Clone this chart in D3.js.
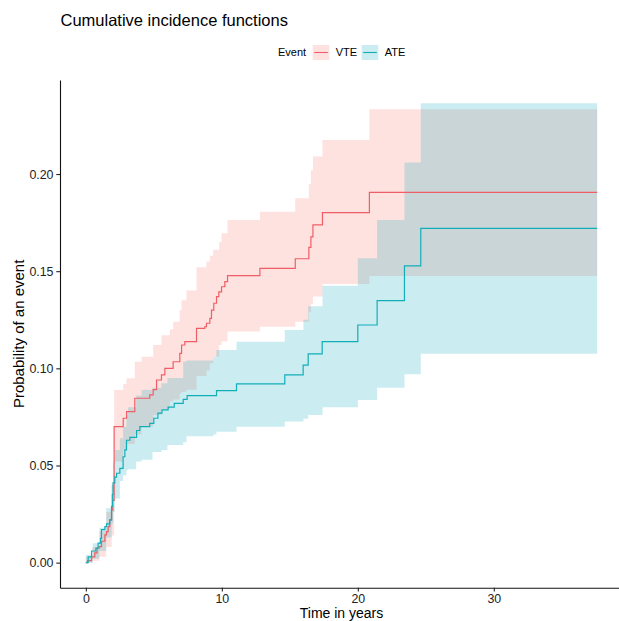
<!DOCTYPE html>
<html>
<head>
<meta charset="utf-8">
<script src="https://cdn.jsdelivr.net/npm/d3@7"></script>
<style>
  body { margin: 0; background: #fff; }
  svg { display: block; font-family: "Liberation Sans", Arial, sans-serif; }
</style>
</head>
<body>
<div id="chart"></div>
<script>
// estimaciones de la función de incidencia acumulada
var vteTime = [0, 0.12, 0.42, 0.66, 0.83, 0.98, 1.15, 1.4, 1.52, 1.64, 1.76, 1.89, 1.98, 2.08, 2.75, 3.0, 3.6, 4.7, 4.95, 5.2, 5.56, 5.81, 6.42, 6.91, 7.04, 7.28, 8.14, 8.75, 8.87, 9.12, 9.24, 9.41, 9.61, 9.78, 9.98, 10.22, 10.42, 12.8, 15.4, 16.4, 16.55, 16.7, 17.4, 20.85, 37.6];
var vteEst  = [0, 0.001, 0.003, 0.005, 0.0074, 0.0082, 0.011, 0.0143, 0.016, 0.0185, 0.022, 0.027, 0.032, 0.070, 0.0743, 0.0777, 0.0846, 0.0863, 0.089, 0.094, 0.0966, 0.100, 0.1034, 0.1077, 0.112, 0.1137, 0.1206, 0.1214, 0.1232, 0.1257, 0.130, 0.1335, 0.1369, 0.1394, 0.142, 0.1446, 0.1477, 0.1515, 0.1564, 0.1623, 0.1677, 0.1738, 0.1801, 0.1906, 0.1906];

var ateTime = [0, 0.17, 0.42, 0.74, 0.9, 1.08, 1.15, 1.4, 1.52, 1.76, 1.89, 1.95, 2.0, 2.13, 2.26, 2.5, 2.74, 2.87, 2.99, 3.24, 3.73, 3.97, 4.7, 5.0, 5.3, 5.6, 6.05, 6.5, 7.16, 7.45, 9.61, 11.08, 14.63, 15.98, 16.35, 17.38, 20.0, 21.42, 23.43, 24.63, 37.6];
var ateEst  = [0, 0.003, 0.006, 0.0075, 0.010, 0.0125, 0.017, 0.0185, 0.020, 0.022, 0.029, 0.035, 0.041, 0.044, 0.046, 0.0485, 0.0545, 0.058, 0.063, 0.0645, 0.068, 0.070, 0.0717, 0.0743, 0.077, 0.0786, 0.080, 0.082, 0.084, 0.086, 0.0885, 0.092, 0.0966, 0.1017, 0.1074, 0.1137, 0.1223, 0.1348, 0.1527, 0.172, 0.172];

// bandas de confianza
var vteBandTime = [0, 0.5, 1.0, 1.5, 1.9, 2.08, 2.75, 2.99, 3.6, 4.1, 4.95, 5.56, 6.18, 6.42, 6.9, 7.04, 7.4, 8.14, 8.87, 9.12, 9.36, 9.8, 9.98, 10.42, 12.8, 15.4, 16.4, 16.55, 16.7, 17.4, 20.85, 37.6];
var vteLower = [0, 0.001, 0.003, 0.008, 0.014, 0.052, 0.058, 0.061, 0.066, 0.070, 0.076, 0.079, 0.083, 0.084, 0.087, 0.088, 0.089, 0.096, 0.099, 0.1026, 0.106, 0.112, 0.114, 0.119, 0.1214, 0.124, 0.129, 0.133, 0.137, 0.1434, 0.1475, 0.1475];
var vteUpper = [0.003, 0.008, 0.016, 0.026, 0.040, 0.0889, 0.092, 0.0949, 0.1034, 0.106, 0.112, 0.117, 0.120, 0.124, 0.130, 0.135, 0.140, 0.152, 0.155, 0.158, 0.161, 0.165, 0.1695, 0.1763, 0.1806, 0.1875, 0.195, 0.202, 0.209, 0.2175, 0.2333, 0.2333];

var ateBandTime = [0, 0.5, 1.0, 1.5, 1.9, 2.0, 2.13, 2.5, 2.74, 2.99, 3.1, 3.7, 4.1, 4.9, 5.56, 6.0, 7.16, 7.4, 9.36, 9.6, 11.08, 14.63, 16.0, 16.35, 17.4, 20.0, 21.42, 23.43, 24.63, 37.6];
var ateLower = [0, 0.002, 0.006, 0.013, 0.020, 0.026, 0.033, 0.042, 0.045, 0.0477, 0.048, 0.052, 0.053, 0.057, 0.058, 0.0606, 0.062, 0.065, 0.066, 0.0674, 0.070, 0.0726, 0.074, 0.076, 0.080, 0.0837, 0.090, 0.097, 0.1075, 0.1075];
var ateUpper = [0.004, 0.010, 0.018, 0.028, 0.040, 0.052, 0.058, 0.064, 0.070, 0.076, 0.080, 0.086, 0.0889, 0.090, 0.0923, 0.095, 0.1034, 0.104, 0.106, 0.1094, 0.1137, 0.1197, 0.125, 0.132, 0.1425, 0.1566, 0.1763, 0.206, 0.2364, 0.2364];

var xTicks = [0, 10, 20, 30];
var yTicks = [0, 0.05, 0.10, 0.15, 0.20];
var colores = { VTE: "#EF5E66", ATE: "#12AEB8" };
var relleno = { VTE: "#F8766D", ATE: "#0AA6B6" };

var width = 619;
var height = 621;
var panel = { left: 60, top: 80, right: 623, bottom: 587.7 };

var svg = d3.select("#chart").append("svg")
    .attr("width", width)
    .attr("height", height);

var x = d3.scaleLinear()
    .domain([-1.9, 39.5])
    .range([panel.left, panel.right]);

var y = d3.scaleLinear()
    .domain([-0.0129, 0.2484])
    .range([panel.bottom, panel.top]);

function juntar(t, a, b) {
    return t.map(function(v, i) { return { t: v, a: a[i], b: b ? b[i] : null }; });
}

var series = [
    { nombre: "VTE", linea: juntar(vteTime, vteEst), banda: juntar(vteBandTime, vteLower, vteUpper) },
    { nombre: "ATE", linea: juntar(ateTime, ateEst), banda: juntar(ateBandTime, ateLower, ateUpper) }
];

var area = d3.area()
    .curve(d3.curveStepAfter)
    .x(function(d) { return x(d.t); })
    .y0(function(d) { return y(d.a); })
    .y1(function(d) { return y(d.b); });

var linea = d3.line()
    .curve(d3.curveStepAfter)
    .x(function(d) { return x(d.t); })
    .y(function(d) { return y(d.a); });

svg.selectAll(".banda")
    .data(series)
    .enter().append("path")
    .attr("class", "banda")
    .attr("d", function(d) { return area(d.banda); })
    .attr("fill", function(d) { return relleno[d.nombre]; })
    .attr("fill-opacity", 0.21);

svg.selectAll(".linea")
    .data(series)
    .enter().append("path")
    .attr("class", "linea")
    .attr("d", function(d) { return linea(d.linea); })
    .attr("fill", "none")
    .attr("stroke", function(d) { return colores[d.nombre]; })
    .attr("stroke-width", 1.2);

// ejes
var ejeX = svg.append("g")
    .attr("transform", "translate(0," + panel.bottom + ")")
    .call(d3.axisBottom(x).tickValues(xTicks).tickSize(3.7).tickSizeOuter(0).tickPadding(2.6));

var ejeY = svg.append("g")
    .attr("transform", "translate(" + panel.left + ",0)")
    .call(d3.axisLeft(y).tickValues(yTicks).tickFormat(d3.format(".2f")).tickSize(3.7).tickSizeOuter(0).tickPadding(2.8));

[ejeX, ejeY].forEach(function(g) {
    g.select(".domain").attr("stroke", "#111").attr("stroke-width", 1.1);
    g.selectAll(".tick line").attr("stroke", "#222").attr("stroke-width", 1.1);
    g.selectAll(".tick text")
        .attr("fill", "#222")
        .style("font-size", "12.4px")
        .style("font-family", "'Liberation Sans', Arial, sans-serif");
});

// títulos
svg.append("text")
    .attr("x", 60.5)
    .attr("y", 26)
    .attr("font-size", "16.5px")
    .attr("fill", "#000")
    .text("Cumulative incidence functions");

svg.append("text")
    .attr("x", (panel.left + panel.right) / 2)
    .attr("y", 618.2)
    .attr("text-anchor", "middle")
    .attr("font-size", "14px")
    .attr("fill", "#000")
    .text("Time in years");

svg.append("text")
    .attr("transform", "translate(23.5," + ((panel.top + panel.bottom) / 2) + ") rotate(-90)")
    .attr("text-anchor", "middle")
    .attr("font-size", "15px")
    .attr("fill", "#000")
    .text("Probability of an event");

// leyenda
var leyenda = svg.append("g");
var ly = 52.5;

leyenda.append("text")
    .attr("x", 278)
    .attr("y", ly + 3.9)
    .attr("font-size", "11px")
    .text("Event");

var claves = [{ nombre: "VTE", x: 312.7 }, { nombre: "ATE", x: 361.7 }];

claves.forEach(function(c) {
    leyenda.append("rect")
        .attr("x", c.x)
        .attr("y", ly - 7.5)
        .attr("width", 16.6)
        .attr("height", 15)
        .attr("fill", relleno[c.nombre])
        .attr("fill-opacity", 0.21);
    leyenda.append("line")
        .attr("x1", c.x + 1.5)
        .attr("x2", c.x + 15.1)
        .attr("y1", ly)
        .attr("y2", ly)
        .attr("stroke", colores[c.nombre])
        .attr("stroke-width", 1.1);
    leyenda.append("text")
        .attr("x", c.x + 23)
        .attr("y", ly + 3.9)
        .attr("font-size", "11px")
        .text(c.nombre);
});
</script>
</body>
</html>
